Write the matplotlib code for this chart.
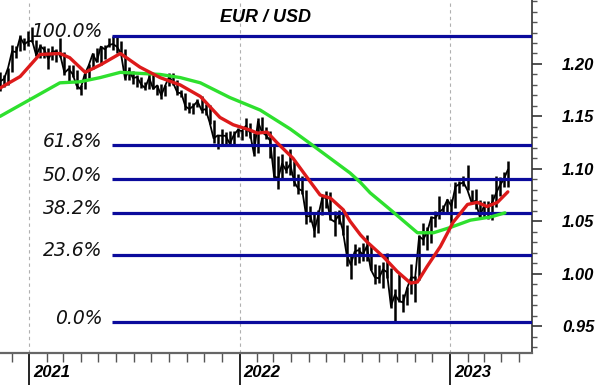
import numpy as np
import pandas as pd
import matplotlib
matplotlib.use('Agg')
import matplotlib.pyplot as plt
import matplotlib.dates as mdates
from matplotlib.ticker import MultipleLocator, FixedLocator, FormatStrFormatter

# weekly EUR/USD bars (week ending Friday)
first_week = '2020-11-13'
high = [1.1920, 1.1893, 1.1964, 1.2178, 1.2167, 1.2273, 1.2250,
        1.2310, 1.2349, 1.2230, 1.2189, 1.2170, 1.2150, 1.2170, 1.2144, 1.2243,
        1.2113, 1.1990, 1.1990, 1.1945, 1.1799, 1.1927, 1.1995, 1.2100, 1.2150,
        1.2170, 1.2180, 1.2245, 1.2266, 1.2254, 1.2218, 1.2146, 1.1975,
        1.1937, 1.1895, 1.1880, 1.1830, 1.1909, 1.1900, 1.1800, 1.1805, 1.1800,
        1.1909, 1.1909, 1.1850, 1.1755, 1.1720, 1.1640, 1.1625, 1.1669, 1.1692,
        1.1616, 1.1610, 1.1464, 1.1320, 1.1382, 1.1355, 1.1360, 1.1360, 1.1386,
        1.1370, 1.1482, 1.1440, 1.1340, 1.1484, 1.1495, 1.1395, 1.1360,
        1.1237, 1.1120, 1.1137, 1.1070, 1.1185, 1.1070, 1.0955, 1.0936, 1.0800,
        1.0641, 1.0590, 1.0607, 1.0735, 1.0787, 1.0774, 1.0601, 1.0605,
        1.0615, 1.0460, 1.0185, 1.0279, 1.0256, 1.0294, 1.0368, 1.0260, 1.0090,
        1.0079, 1.0112, 1.0198, 1.0050, 0.9850, 0.9999, 0.9809, 0.9876, 1.0094,
        0.9976, 1.0365, 1.0481, 1.0448, 1.0545, 1.0595, 1.0736, 1.0658, 1.0713,
        1.0713, 1.0870, 1.0887, 1.0930, 1.1033, 1.0800, 1.0805, 1.0705,
        1.0690, 1.0697, 1.0760, 1.0930, 1.0925, 1.0973, 1.1075]
low = [1.1746, 1.1780, 1.1800, 1.1925, 1.2059, 1.2125, 1.2130,
       1.2170, 1.2210, 1.2075, 1.2054, 1.2058, 1.1952, 1.2035, 1.2022, 1.2070,
       1.1894, 1.1835, 1.1874, 1.1762, 1.1704, 1.1761, 1.1870, 1.1950, 1.2015,
       1.1986, 1.2051, 1.2160, 1.2133, 1.2105, 1.2093, 1.1847, 1.1848,
       1.1807, 1.1782, 1.1772, 1.1752, 1.1760, 1.1760, 1.1705, 1.1664, 1.1693,
       1.1790, 1.1800, 1.1700, 1.1684, 1.1563, 1.1529, 1.1524, 1.1590, 1.1535,
       1.1513, 1.1432, 1.1250, 1.1186, 1.1235, 1.1228, 1.1222, 1.1235, 1.1300,
       1.1272, 1.1315, 1.1290, 1.1121, 1.1155, 1.1340, 1.1280, 1.1106,
       1.0890, 1.0806, 1.0900, 1.0960, 1.0945, 1.0837, 1.0758, 1.0760, 1.0470,
       1.0490, 1.0350, 1.0390, 1.0560, 1.0627, 1.0510, 1.0358, 1.0470,
       1.0365, 1.0072, 0.9952, 1.0080, 1.0098, 1.0123, 1.0121, 1.0033, 0.9900,
       0.9910, 0.9864, 0.9956, 0.9670, 0.9536, 0.9730, 0.9632, 0.9705, 0.9810,
       0.9730, 0.9935, 1.0270, 1.0223, 1.0290, 1.0443, 1.0520, 1.0575, 1.0590,
       1.0483, 1.0630, 1.0766, 1.0835, 1.0795, 1.0670, 1.0613, 1.0533,
       1.0533, 1.0525, 1.0516, 1.0635, 1.0745, 1.0830, 1.0830]
close = [1.1833, 1.1857, 1.1962, 1.2121, 1.2113, 1.2255, 1.2187,
         1.2216, 1.2220, 1.2080, 1.2170, 1.2136, 1.2046, 1.2120, 1.2120, 1.2075,
         1.1915, 1.1952, 1.1905, 1.1795, 1.1760, 1.1900, 1.1985, 1.2095, 1.2020,
         1.2165, 1.2140, 1.2180, 1.2190, 1.2165, 1.2105, 1.1865, 1.1937,
         1.1865, 1.1875, 1.1805, 1.1770, 1.1870, 1.1762, 1.1795, 1.1700, 1.1795,
         1.1880, 1.1815, 1.1727, 1.1720, 1.1595, 1.1570, 1.1600, 1.1645, 1.1560,
         1.1568, 1.1445, 1.1290, 1.1318, 1.1315, 1.1315, 1.1240, 1.1320, 1.1370,
         1.1360, 1.1410, 1.1345, 1.1145, 1.1450, 1.1350, 1.1320, 1.1270,
         1.0930, 1.0910, 1.1050, 1.0985, 1.1045, 1.0875, 1.0810, 1.0790, 1.0545,
         1.0550, 1.0410, 1.0560, 1.0730, 1.0720, 1.0520, 1.0495, 1.0555,
         1.0425, 1.0185, 1.0085, 1.0210, 1.0225, 1.0180, 1.0260, 1.0040, 0.9965,
         0.9955, 1.0040, 1.0015, 0.9690, 0.9800, 0.9740, 0.9725, 0.9860, 0.9965,
         0.9960, 1.0355, 1.0325, 1.0400, 1.0535, 1.0530, 1.0585, 1.0620, 1.0705,
         1.0645, 1.0830, 1.0855, 1.0870, 1.0795, 1.0680, 1.0695, 1.0545,
         1.0635, 1.0640, 1.0670, 1.0760, 1.0840, 1.0900, 1.0990]

# moving averages
red_dates = ['2020-11-11', '2020-12-16', '2021-01-19', '2021-02-23', '2021-03-12',
             '2021-04-08', '2021-05-04', '2021-06-08', '2021-06-16', '2021-07-12',
             '2021-08-16', '2021-09-20', '2021-10-25', '2021-11-28', '2021-12-21',
             '2022-01-19', '2022-02-01', '2022-02-18', '2022-03-07', '2022-04-04',
             '2022-04-28', '2022-05-21', '2022-06-08', '2022-06-30', '2022-07-12',
             '2022-07-30', '2022-08-11', '2022-09-08', '2022-10-02', '2022-10-25',
             '2022-11-06', '2022-11-23', '2022-12-16', '2023-01-07', '2023-02-01',
             '2023-02-18', '2023-03-07', '2023-03-25', '2023-04-12']
red_vals = [1.177, 1.188, 1.209, 1.210, 1.206,
            1.192, 1.199, 1.210, 1.207, 1.197,
            1.187, 1.180, 1.169, 1.149, 1.142,
            1.137, 1.134, 1.135, 1.125, 1.110,
            1.092, 1.075, 1.072, 1.061, 1.050,
            1.037, 1.030, 1.016, 1.002, 0.991,
            0.992, 1.007, 1.026, 1.049, 1.066,
            1.068, 1.064, 1.068, 1.078]
green_dates = ['2020-11-11', '2021-01-02', '2021-02-23', '2021-03-30', '2021-05-04',
               '2021-06-08', '2021-07-12', '2021-08-16', '2021-09-20', '2021-10-25',
               '2021-12-15', '2022-02-06', '2022-03-30', '2022-05-09', '2022-07-12',
               '2022-07-30', '2022-08-16', '2022-09-20', '2022-11-06', '2022-12-04',
               '2023-01-02', '2023-02-06', '2023-03-13', '2023-04-07']
green_vals = [1.150, 1.166, 1.182, 1.183, 1.187,
              1.192, 1.191, 1.190, 1.187, 1.182,
              1.168, 1.156, 1.138, 1.122, 1.096,
              1.087, 1.077, 1.061, 1.039, 1.039,
              1.044, 1.051, 1.054, 1.058]

# Fibonacci retracement
fib_low, fib_high = 0.9536, 1.2266
fib_start = '2021-05-25'
fib_ratios = [1.0, 0.618, 0.5, 0.382, 0.236, 0.0]
fib_labels = ['100.0%', '61.8%', '50.0%', '38.2%', '23.6%', '0.0%']

years = ['2021', '2022', '2023']
price_ticks = [0.95, 1.00, 1.05, 1.10, 1.15, 1.20]

weeks = pd.date_range(first_week, periods=len(close), freq='W-FRI') - pd.Timedelta(days=2)
x0, x1 = pd.Timestamp('2020-11-11'), pd.Timestamp('2023-05-24')

fig = plt.figure(figsize=(6, 3.85), dpi=100)
ax = fig.add_axes([0, 32 / 385, 532 / 600, 353 / 385])

ax.vlines(weeks, low, high, color='black', lw=1.8, zorder=2)
ax.plot(weeks, close, color='black', lw=1.3, zorder=2)

ax.plot(pd.to_datetime(green_dates), green_vals, color='#2ee02e', lw=2.4,
        solid_capstyle='round', zorder=5)
ax.plot(pd.to_datetime(red_dates), red_vals, color='#dd1a1a', lw=2.4,
        solid_capstyle='round', zorder=6)

fs = pd.Timestamp(fib_start)
for r, lbl in zip(fib_ratios, fib_labels):
    lvl = fib_low + r * (fib_high - fib_low)
    ax.hlines(lvl, fs, x1, color='#0b0b9c', lw=2.3, zorder=4)
    ax.annotate(lbl, xy=(fs, lvl), xytext=(-7, 3), textcoords='offset points',
                ha='right', va='center', fontsize=13.5, style='italic',
                family='DejaVu Sans', color='#111111')

for y in years:
    d = pd.Timestamp(y + '-01-01')
    ax.axvline(d, color='#b0b0b0', ls=(0, (3, 3)), lw=0.8, zorder=0)
    ax.annotate(y, xy=(d, 0), xycoords=('data', 'axes fraction'),
                xytext=(3, -14), textcoords='offset points', ha='left', va='center',
                fontsize=12, fontweight='bold', style='italic',
                family='Liberation Sans', annotation_clip=False)

ax.set_xlim(x0, x1)
ax.set_ylim(0.9243, 1.261)

ax.xaxis.set_major_locator(mdates.YearLocator())
ax.xaxis.set_minor_locator(mdates.MonthLocator())
ax.xaxis.set_major_formatter(plt.NullFormatter())
ax.tick_params(axis='x', which='major', length=23, width=1.2, color='black')
ax.tick_params(axis='x', which='minor', length=6.5, width=1.0, color='#555555')

ax.yaxis.tick_right()
ax.yaxis.set_major_locator(FixedLocator(price_ticks))
ax.yaxis.set_minor_locator(MultipleLocator(0.01))
ax.yaxis.set_major_formatter(FormatStrFormatter('%.2f'))
ax.tick_params(axis='y', which='major', length=7.5, width=1.2, pad=14, color='#333333')
ax.tick_params(axis='y', which='minor', length=3.8, width=1.0, color='#555555')
for t in ax.get_yticklabels():
    t.set_fontsize(12)
    t.set_fontweight('bold')
    t.set_style('italic')
    t.set_family('Liberation Sans')

ax.spines['top'].set_visible(False)
ax.spines['left'].set_visible(False)
ax.spines['right'].set_color('#333333')
ax.spines['right'].set_linewidth(1.2)
ax.spines['bottom'].set_color('#666666')
ax.spines['bottom'].set_linewidth(1.6)

fig.text(266 / 600, 1 - 18 / 385, 'EUR / USD', ha='center', va='center', fontsize=13,
         fontweight='bold', style='italic', family='Liberation Sans')

fig.savefig('out.png', dpi=100)
